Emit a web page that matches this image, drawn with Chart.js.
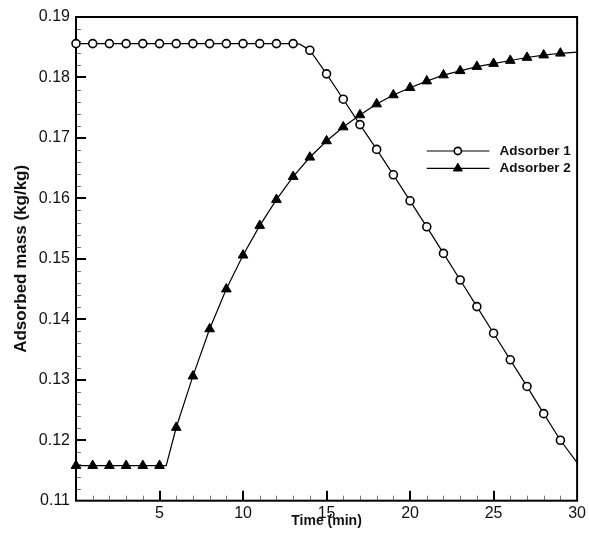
<!DOCTYPE html>
<html>
<head>
<meta charset="utf-8">
<script src="https://cdn.jsdelivr.net/npm/chart.js@4"></script>
<style>
  html, body { margin: 0; padding: 0; background: #fff; }
  #wrap { width: 589px; height: 542px; }
</style>
</head>
<body>
<div id="wrap"><canvas id="c" width="589" height="542"></canvas></div>
<script>
// ---- data ----
const seriesNames = ["Adsorber 1", "Adsorber 2"];
const time1 = [0,1,2,3,4,5,6,7,8,9,10,11,12,13,13.4,14,15,16,17,18,19,20,21,22,23,24,25,26,27,28,29,30];
const mass1 = [0.1856,0.1856,0.1856,0.1856,0.1856,0.1856,0.1856,0.1856,0.1856,0.1856,0.1856,0.1856,0.1856,0.1856,0.1855,0.1845,0.1806,0.1764,0.1722,0.1681,0.1639,0.1596,0.1553,0.1509,0.1465,0.1421,0.1377,0.1333,0.1289,0.1244,0.1200,0.1163];
const time2 = [0,1,2,3,4,5,5.4,6,7,8,9,10,11,12,13,14,15,16,17,18,19,20,21,22,23,24,25,26,27,28,29,30];
const mass2 = [0.1158,0.1158,0.1158,0.1158,0.1158,0.1158,0.1158,0.1221,0.1306,0.1384,0.1450,0.1506,0.1555,0.1598,0.1636,0.1668,0.1695,0.1718,0.1738,0.1756,0.1771,0.1783,0.1794,0.1804,0.1811,0.1818,0.1823,0.1828,0.1833,0.1837,0.1840,0.1842];
const xTicks = [5,10,15,20,25,30];
const yTicks = [0.11,0.12,0.13,0.14,0.15,0.16,0.17,0.18,0.19];
const xTitle = "Time (min)";
const yTitle = "Adsorbed mass (kg/kg)";

const FONT = "'Liberation Sans', Arial, sans-serif";
const toXY = (xs, ys) => xs.map((x, i) => ({x: x, y: ys[i]}));
const markerAt = (ctx, r) => {
  const p = ctx.raw;
  return (p && Number.isInteger(p.x) && p.x < 30) ? r : 0;
};

// frame + inward ticks + in-plot legend
const framePlugin = {
  id: 'frame',
  beforeDatasetsDraw(chart) {
    const {ctx, chartArea: a, scales: {x, y}} = chart;
    ctx.save();
    // minor ticks
    ctx.strokeStyle = '#777';
    ctx.lineWidth = 1;
    ctx.beginPath();
    for (let t = 1; t < 30; t++) {
      if (t % 5 === 0) continue;
      const px = Math.round(x.getPixelForValue(t)) + 0.5;
      ctx.moveTo(px, a.bottom); ctx.lineTo(px, a.bottom - 5);
    }
    for (let k = 1; k < 40; k++) {
      if (k % 5 === 0) continue;
      const v = 0.11 + k * 0.002;
      const py = Math.round(y.getPixelForValue(v)) + 0.5;
      ctx.moveTo(a.left, py); ctx.lineTo(a.left + 5, py);
    }
    ctx.stroke();
    // major ticks
    ctx.strokeStyle = '#000';
    ctx.lineWidth = 2;
    ctx.beginPath();
    xTicks.forEach(t => {
      if (t >= 30) return;
      const px = Math.round(x.getPixelForValue(t));
      ctx.moveTo(px, a.bottom); ctx.lineTo(px, a.bottom - 10);
    });
    yTicks.forEach(v => {
      if (v <= 0.11 || v >= 0.19) return;
      const py = Math.round(y.getPixelForValue(v));
      ctx.moveTo(a.left, py); ctx.lineTo(a.left + 10, py);
    });
    ctx.stroke();
    // frame
    ctx.lineWidth = 2;
    ctx.strokeRect(a.left, a.top, a.right - a.left, a.bottom - a.top);
    ctx.restore();
  },
  afterDraw(chart) {
    const {ctx, chartArea: a} = chart;
    const w = a.right - a.left, h = a.bottom - a.top;
    const x0 = a.left + w * 0.7, x1 = a.left + w * 0.825, xm = a.left + w * 0.762;
    const xt = a.left + w * 0.845;
    const ys = [a.top + h * 0.277, a.top + h * 0.313];
    ctx.save();
    chart.data.datasets.forEach((ds, i) => {
      const yy = ys[i];
      ctx.strokeStyle = '#000';
      ctx.lineWidth = 1.2;
      ctx.beginPath(); ctx.moveTo(x0, yy); ctx.lineTo(x1, yy); ctx.stroke();
      ctx.fillStyle = ds.pointBackgroundColor;
      ctx.strokeStyle = ds.pointBorderColor;
      ctx.lineWidth = ds.pointBorderWidth;
      ctx.beginPath();
      if (ds.pointStyle === 'circle') {
        ctx.arc(xm, yy, 3.6, 0, Math.PI * 2);
      } else {
        const r = 5.2;
        ctx.moveTo(xm, yy - r);
        ctx.lineTo(xm + r * 0.866, yy + r * 0.5);
        ctx.lineTo(xm - r * 0.866, yy + r * 0.5);
        ctx.closePath();
      }
      ctx.fill(); ctx.stroke();
      ctx.fillStyle = '#111';
      ctx.font = "bold 13.5px " + FONT;
      ctx.textAlign = 'left';
      ctx.textBaseline = 'middle';
      ctx.fillText(ds.label, xt, yy);
    });
    ctx.restore();
  }
};

new Chart(document.getElementById('c'), {
  type: 'scatter',
  data: {
    datasets: [
      {
        label: seriesNames[0],
        data: toXY(time1, mass1),
        showLine: true,
        borderColor: '#000',
        borderWidth: 1.2,
        pointStyle: 'circle',
        pointRadius: ctx => markerAt(ctx, 4),
        pointHoverRadius: ctx => markerAt(ctx, 4),
        pointBackgroundColor: '#fff',
        pointBorderColor: '#000',
        pointBorderWidth: 1.6,
        clip: false
      },
      {
        label: seriesNames[1],
        data: toXY(time2, mass2),
        showLine: true,
        borderColor: '#000',
        borderWidth: 1.2,
        pointStyle: 'triangle',
        pointRadius: ctx => markerAt(ctx, 5.6),
        pointHoverRadius: ctx => markerAt(ctx, 5.6),
        pointBackgroundColor: '#000',
        pointBorderColor: '#000',
        pointBorderWidth: 1,
        clip: false
      }
    ]
  },
  options: {
    responsive: false,
    animation: false,
    events: [],
    layout: { padding: { left: 0, top: 17, right: 9.5, bottom: 0 } },
    plugins: { legend: { display: false }, tooltip: { enabled: false } },
    scales: {
      x: {
        type: 'linear',
        min: 0, max: 30,
        afterFit(s) { s.height = 41.3; },
        afterBuildTicks(s) { s.ticks = xTicks.map(v => ({value: v})); },
        grid: { display: false, drawTicks: false },
        border: { display: false },
        ticks: {
          padding: 3,
          color: '#111',
          font: { family: FONT, size: 16 },
          maxRotation: 0,
          autoSkip: false
        },
        title: {
          display: true,
          text: xTitle,
          color: '#111',
          font: { family: FONT, size: 14, weight: 'bold' },
          padding: { top: 0, bottom: 12.6 }
        }
      },
      y: {
        type: 'linear',
        min: 0.11, max: 0.19,
        afterFit(s) { s.width = 76; },
        afterBuildTicks(s) { s.ticks = yTicks.map(v => ({value: v})); },
        grid: { display: false, drawTicks: false },
        border: { display: false },
        ticks: {
          padding: 6,
          color: '#111',
          font: { family: FONT, size: 16 },
          autoSkip: false,
          callback: v => v.toFixed(2)
        },
        title: {
          display: true,
          text: yTitle,
          color: '#111',
          font: { family: FONT, size: 17, weight: 'bold' },
          padding: { top: 11.5, bottom: 0 }
        }
      }
    }
  },
  plugins: [framePlugin]
});
</script>
</body>
</html>
